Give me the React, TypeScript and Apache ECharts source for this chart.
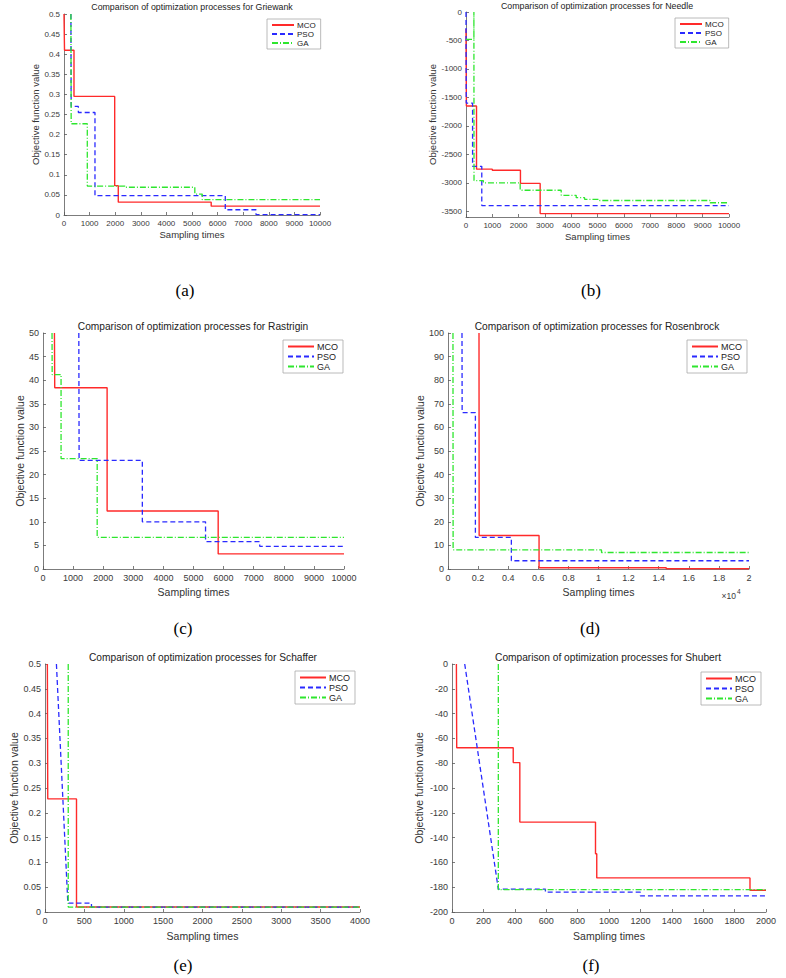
import React, { useEffect, useRef } from 'react';
import * as echarts from 'echarts';

// ---------- data (x = sampling times, y = objective function value) ----------
const seriesNames = ['MCO', 'PSO', 'GA'];

// (a) Griewank
const griewankMCO = [[0, 0.5], [20, 0.41], [390, 0.295], [1980, 0.073], [2120, 0.032], [5750, 0.022], [10000, 0.022]];
const griewankPSO = [[270, 0.5], [280, 0.27], [560, 0.255], [1210, 0.048], [6300, 0.013], [7500, 0.001], [10000, 0.001]];
const griewankGA = [[270, 0.5], [280, 0.227], [910, 0.072], [2380, 0.069], [5110, 0.052], [5400, 0.038], [10000, 0.038]];

// (b) Needle
const needleMCO = [[0, -300], [15, -1650], [400, -2760], [1000, -2780], [2070, -3010], [2820, -3540], [10000, -3540]];
const needlePSO = [[0, 0], [10, -1600], [250, -2710], [600, -3400], [10000, -3400]];
const needleGA = [[0, -480], [300, 0], [305, -2960], [660, -3000], [2060, -3130], [3620, -3220], [4190, -3260], [4510, -3290], [5080, -3310], [9280, -3350], [10000, -3350]];

// (c) Rastrigin
const rastriginMCO = [[380, 50], [390, 38.4], [2130, 12.3], [5820, 3.2], [10000, 3.2]];
const rastriginPSO = [[1190, 50], [1200, 23], [3300, 10], [5400, 5.8], [7200, 4.8], [10000, 4.8]];
const rastriginGA = [[300, 50], [305, 41.2], [600, 23.4], [1800, 6.7], [10000, 6.7]];

// (d) Rosenbrock
const rosenbrockMCO = [[2060, 100], [2070, 14.2], [6050, 0.5], [14500, 0.1], [20000, 0.1]];
const rosenbrockPSO = [[930, 100], [940, 66.3], [1820, 13.4], [4210, 3.5], [20000, 3.5]];
const rosenbrockGA = [[330, 100], [340, 8.1], [10200, 7.0], [20000, 7.0]];

// (e) Schaffer
const schafferMCO = [[30, 0.5], [35, 0.228], [400, 0.01], [4000, 0.01]];
const schafferPSO = [[145, 0.5], [290, 0.018], [590, 0.018], [590, 0.01], [4000, 0.01]];
const schafferGA = [[295, 0.5], [295, 0.01], [4000, 0.01]];

// (f) Shubert
const shubertMCO = [[28, 0], [30, -67.5], [390, -79.5], [432, -127.5], [914, -153], [922, -172.5], [1898, -182.5], [2000, -182.5]];
const shubertPSO = [[81, 0], [295, -181.5], [595, -181.5], [595, -184], [1200, -184], [1200, -187], [2000, -187]];
const shubertGA = [[295, 0], [295, -182], [2000, -182]];

const titles = [
  'Comparison of optimization processes for Griewank',
  'Comparison of optimization processes for Needle',
  'Comparison of optimization processes for Rastrigin',
  'Comparison of optimization processes for Rosenbrock',
  'Comparison of optimization processes for Schaffer',
  'Comparison of optimization processes for Shubert',
];
const captions = ['(a)', '(b)', '(c)', '(d)', '(e)', '(f)'];

// ---------- layout / styling ----------
const FONT = '"Liberation Sans", Arial, Helvetica, sans-serif';
const AX = '#5a5a5a';
const LBL = '#3a3a3a';

const lineStyles = [
  { color: '#ff2a2a', width: 1.4, type: 'solid' },
  { color: '#2a2aff', width: 1.3, type: [5, 3] },
  { color: '#2ee62e', width: 1.3, type: [6, 2, 1, 2] },
];

const fmtNum = (v: number) => String(+v.toFixed(6));

const panels = [
  {
    data: [griewankMCO, griewankPSO, griewankGA], steps: [true, true, true],
    grid: { left: 64, top: 14, width: 256, height: 201 },
    x: { min: 0, max: 10000, interval: 1000 }, y: { min: 0, max: 0.5, interval: 0.05 },
    tickFont: 8, nameFont: 9.5, titleFont: 8.8, legendFont: 8, itemWidth: 22,
    xGap: 14, yGap: 22, legend: { left: 267, top: 19 },
    titlePos: [192, 7], capPos: [185, 290],
  },
  {
    data: [needleMCO, needlePSO, needleGA], steps: [true, true, true],
    grid: { left: 466, top: 12, width: 263, height: 205 },
    x: { min: 0, max: 10000, interval: 1000 }, y: { min: -3600, max: 0, fixed500: true },
    tickFont: 8, nameFont: 9.5, titleFont: 8.8, legendFont: 8, itemWidth: 22,
    xGap: 14, yGap: 26, legend: { left: 675, top: 18 },
    titlePos: [597, 6], capPos: [591, 290],
  },
  {
    data: [rastriginMCO, rastriginPSO, rastriginGA], steps: [true, true, true],
    grid: { left: 43, top: 333, width: 301, height: 236 },
    x: { min: 0, max: 10000, interval: 1000 }, y: { min: 0, max: 50, interval: 5 },
    tickFont: 9, nameFont: 10.5, titleFont: 10.2, legendFont: 9, itemWidth: 26,
    xGap: 17, yGap: 16, legend: { left: 283, top: 340 },
    titlePos: [193, 326], capPos: [183, 628],
  },
  {
    data: [rosenbrockMCO, rosenbrockPSO, rosenbrockGA], steps: [true, true, true],
    grid: { left: 448, top: 333, width: 301, height: 236 },
    x: { min: 0, max: 20000, interval: 2000, scale4: true }, y: { min: 0, max: 100, interval: 10 },
    tickFont: 9, nameFont: 10.5, titleFont: 10.2, legendFont: 9, itemWidth: 26,
    xGap: 17, yGap: 21, legend: { left: 687, top: 340 },
    titlePos: [597, 326], capPos: [590, 628],
  },
  {
    data: [schafferMCO, schafferPSO, schafferGA], steps: [true, false, false],
    grid: { left: 45, top: 664, width: 315, height: 248 },
    x: { min: 0, max: 4000, interval: 500 }, y: { min: 0, max: 0.5, interval: 0.05 },
    tickFont: 9, nameFont: 10.5, titleFont: 10.2, legendFont: 9, itemWidth: 26,
    xGap: 18, yGap: 26, legend: { left: 295, top: 671 },
    titlePos: [203, 657], capPos: [183, 965],
  },
  {
    data: [shubertMCO, shubertPSO, shubertGA], steps: [true, false, false],
    grid: { left: 452, top: 664, width: 314, height: 248 },
    x: { min: 0, max: 2000, interval: 200 }, y: { min: -200, max: 0, interval: 20 },
    tickFont: 9, nameFont: 10.5, titleFont: 10.2, legendFont: 9, itemWidth: 26,
    xGap: 18, yGap: 28, legend: { left: 701, top: 672 },
    titlePos: [608, 657], capPos: [591, 965],
  },
];

function buildOption() {
  const grid: any[] = [];
  const xAxis: any[] = [];
  const yAxis: any[] = [];
  const series: any[] = [];
  const legend: any[] = [];
  const graphic: any[] = [];

  panels.forEach((p: any, i) => {
    grid.push({ ...p.grid, containLabel: false });
    const axisCommon = {
      type: 'value',
      gridIndex: i,
      nameLocation: 'middle',
      nameTextStyle: { fontSize: p.nameFont, color: '#333', fontFamily: FONT },
      axisLine: { show: true, onZero: false, lineStyle: { color: AX, width: 0.8 } },
      axisTick: { show: true, inside: true, length: 3, lineStyle: { color: AX, width: 0.8 } },
      splitLine: { show: false },
    };
    xAxis.push({
      ...axisCommon,
      min: p.x.min, max: p.x.max, interval: p.x.interval,
      name: 'Sampling times', nameGap: p.xGap,
      axisLabel: {
        fontSize: p.tickFont, color: LBL, fontFamily: FONT, margin: 4,
        formatter: (v: number) => (p.x.scale4 ? fmtNum(v / 10000) : fmtNum(v)),
      },
    });
    const yOpt: any = {
      ...axisCommon,
      min: p.y.min, max: p.y.max,
      name: 'Objective function value', nameGap: p.yGap,
      axisLabel: {
        fontSize: p.tickFont, color: LBL, fontFamily: FONT, margin: 4,
        formatter: (v: number) => (p.y.fixed500 && Math.abs(v % 500) > 1e-9 ? '' : fmtNum(v)),
      },
    };
    if (p.y.fixed500) {
      yOpt.minInterval = 500;
      yOpt.maxInterval = 500;
      yOpt.splitNumber = 7;
    } else {
      yOpt.interval = p.y.interval;
    }
    yAxis.push(yOpt);

    p.data.forEach((d: number[][], k: number) => {
      series.push({
        type: 'line',
        name: seriesNames[k],
        xAxisIndex: i,
        yAxisIndex: i,
        data: d,
        step: p.steps[k] ? 'end' : false,
        symbol: 'none',
        showSymbol: false,
        silent: true,
        clip: true,
        lineStyle: { ...lineStyles[k] },
        itemStyle: { color: lineStyles[k].color },
      });
    });

    legend.push({
      data: seriesNames,
      orient: 'vertical',
      left: p.legend.left,
      top: p.legend.top,
      itemWidth: p.itemWidth,
      itemHeight: 8,
      itemGap: 1,
      padding: [2, 5, 2, 4],
      borderColor: '#a8a8a8',
      borderWidth: 0.8,
      backgroundColor: '#ffffff',
      selectedMode: false,
      itemStyle: { opacity: 0 },
      textStyle: { fontSize: p.legendFont, color: '#222', fontFamily: FONT, padding: [0, 0, 0, -2] },
    });

    graphic.push({
      type: 'text',
      x: p.titlePos[0],
      y: p.titlePos[1],
      style: {
        text: titles[i], align: 'center', verticalAlign: 'middle',
        fontSize: p.titleFont, fontFamily: FONT, fill: '#222',
      },
    });
    graphic.push({
      type: 'text',
      x: p.capPos[0],
      y: p.capPos[1],
      style: {
        text: captions[i], align: 'center', verticalAlign: 'middle',
        fontSize: 17, fontFamily: '"Liberation Serif", "Times New Roman", serif', fill: '#000',
      },
    });
    if (p.x.scale4) {
      graphic.push({
        type: 'text', x: 736, y: 596,
        style: { text: '×10', align: 'right', verticalAlign: 'middle', fontSize: 8.5, fontFamily: FONT, fill: LBL },
      });
      graphic.push({
        type: 'text', x: 737, y: 591,
        style: { text: '4', align: 'left', verticalAlign: 'middle', fontSize: 6.5, fontFamily: FONT, fill: LBL },
      });
    }
  });

  return {
    animation: false,
    backgroundColor: '#ffffff',
    textStyle: { fontFamily: FONT },
    grid, xAxis, yAxis, series, legend, graphic,
  };
}

export default function App() {
  const ref = useRef<HTMLDivElement>(null);
  useEffect(() => {
    document.body.style.margin = '0';
    const chart = echarts.init(ref.current as HTMLDivElement, null, { renderer: 'svg' });
    chart.setOption(buildOption() as any);
    return () => chart.dispose();
  }, []);
  return <div ref={ref} style={{ width: 786, height: 978 }} />;
}
